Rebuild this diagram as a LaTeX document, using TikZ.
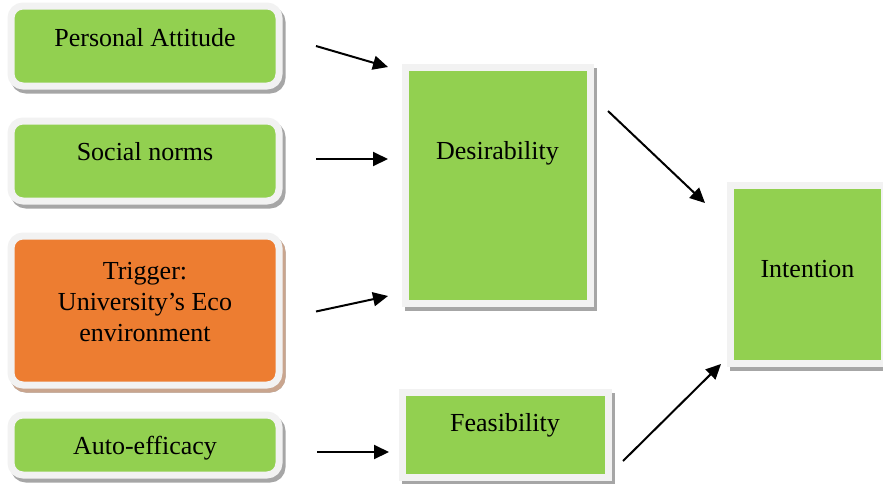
\documentclass[tikz,border=0pt]{standalone}
\usepackage{fontspec}
\setmainfont{Liberation Serif}
\usetikzlibrary{arrows.meta}
\definecolor{leaf}{HTML}{92D050}
\definecolor{ember}{HTML}{ED7D31}
\definecolor{rim}{HTML}{F2F2F2}
\definecolor{shade}{HTML}{A6A6A6}
\definecolor{rust}{HTML}{C9A58E}
\newcommand{\lift}[2]{\raisebox{#1}[0pt][0pt]{#2}}
\begin{document}
\begin{tikzpicture}[
	x=1pt,y=-1pt,
	font=\fontsize{26}{31}\selectfont,
	box/.style={draw=rim,line width=7pt,fill=leaf,inner sep=0pt,outer sep=0pt,
		preaction={draw=shade,fill=shade,line width=7pt,transform canvas={shift={(3pt,-4pt)}}}},
	pill/.style={box,rounded corners=12pt,minimum width=268pt},
	hot/.style={preaction={draw=rust,fill=rust,line width=7pt,transform canvas={shift={(3pt,-4pt)}}},
		fill=ember},
	arr/.style={line width=2pt,-{Triangle[length=15pt,width=14pt]}},
	]
\useasboundingbox (0,0) rectangle (883,483);
% left column
\node [pill,minimum height=80pt] (pa) at (145,46) {\lift{0pt}{Personal Attitude}};
\node [pill,minimum height=80pt] (sn) at (145,161) {\lift{1pt}{Social norms}};
\node [pill,hot,minimum height=149pt] (tr) at (145,310.5)
	{\lift{-30.5pt}{\begin{tabular}[b]{@{}c@{}}Trigger:\\University’s Eco\\environment\end{tabular}}};
\node [pill,minimum height=60pt] (ae) at (145,445) {\lift{-9pt}{Auto-efficacy}};
% middle and right
\node [box,minimum width=185pt,minimum height=236pt] (de) at (497.5,185) {\lift{26pt}{Desirability}};
\node [box,minimum width=206pt,minimum height=85pt] (fe) at (505,435) {\lift{4pt}{Feasibility}};
\node [box,minimum width=154pt,minimum height=178pt] (in) at (807.5,274) {\lift{-3pt}{Intention}};
% arrows
\draw [arr] ([xshift=37pt]pa.east) -- ([xshift=-17pt]de.north west);
\draw [arr] ([xshift=37pt,yshift=2pt]sn.east) -- ([xshift=-17pt,yshift=26pt]de.west);
\draw [arr] ([xshift=37pt,yshift=-1pt]tr.east) -- ([xshift=-17pt,yshift=7pt]de.south west);
\draw [arr] ([xshift=38pt,yshift=-7pt]ae.east) -- ([xshift=-13pt,yshift=-17pt]fe.west);
\draw [arr] ([xshift=18pt,yshift=-44pt]de.north east) -- ([xshift=-25.5pt,yshift=-18pt]in.north west);
\draw [arr] ([xshift=15pt,yshift=-26pt]fe.east) -- ([xshift=-9.5pt,yshift=-1pt]in.south west);
\end{tikzpicture}
\end{document}
